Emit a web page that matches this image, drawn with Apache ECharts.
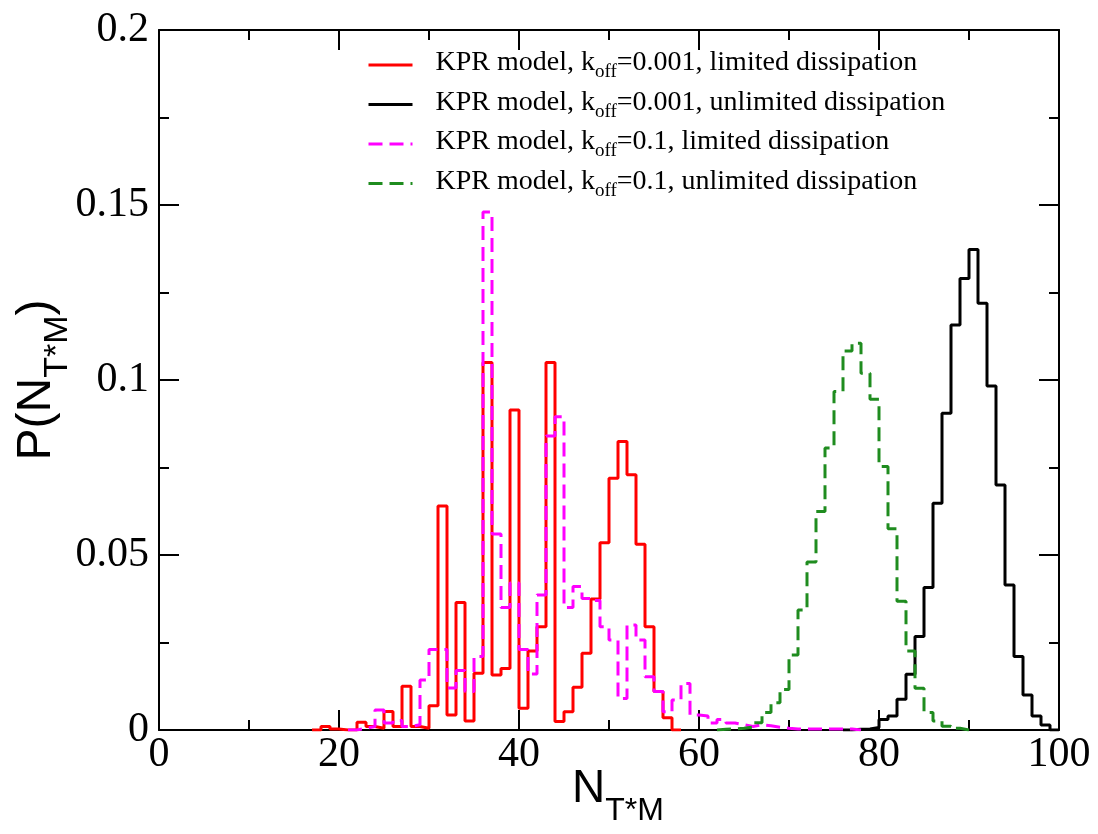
<!DOCTYPE html>
<html>
<head>
<meta charset="utf-8">
<script src="https://cdn.jsdelivr.net/npm/echarts@6/dist/echarts.min.js"></script>
<style>
html,body{margin:0;padding:0;background:#fff;}
#chart{width:1098px;height:834px;}
</style>
</head>
<body>
<div id="chart"></div>
<script>
// ---- data: histogram bins of width 1, first bin left edge = *Start ----
var redStart = 17;
var redValues = [0, 0.001, 0.0003, 0, 0, 0.0022, 0.001, 0.0005, 0.0053, 0.001,
  0.0125, 0.001, 0.0005, 0.0069, 0.064, 0.0043, 0.0364, 0.0026, 0.0162, 0.105,
  0.0157, 0.0176, 0.0914, 0.0062, 0.0226, 0.0295, 0.105, 0.0024, 0.0052, 0.0122,
  0.0219, 0.0374, 0.0535, 0.0719, 0.0824, 0.0729, 0.0531, 0.0295, 0.011, 0.0035, 0];

var blackStart = 76;
var blackValues = [0, 0.0002, 0.0003, 0.0007, 0.003, 0.004, 0.0088, 0.0159, 0.0267, 0.0407,
  0.0648, 0.0905, 0.1157, 0.129, 0.1373, 0.1219, 0.0983, 0.070, 0.0414, 0.021,
  0.010, 0.004, 0.0014, 0];

var magentaStart = 21;
var magentaValues = [0, 0.0005, 0.001, 0.0057, 0.002, 0.0027, 0.001, 0.0015, 0.0143, 0.023,
  0.023, 0.012, 0.017, 0.011, 0.021, 0.148, 0.056, 0.035, 0.042, 0.023,
  0.016, 0.0386, 0.084, 0.0895, 0.035, 0.041, 0.0376, 0.037, 0.0295, 0.0257,
  0.009, 0.030, 0.0257, 0.0152, 0.011, 0.0052, 0.0086, 0.0133, 0.0043, 0.004,
  0.002, 0.003, 0.002, 0.0015, 0.001, 0.0015, 0.0012, 0.0008, 0.0005, 0.0003,
  0.0003, 0.0003, 0.0003, 0.0003, 0.0003, 0.0003, 0];

var greenStart = 62;
var greenValues = [0.0002, 0.0003, 0.0005, 0.0008, 0.0021, 0.005, 0.0078, 0.0116, 0.0214, 0.0343,
  0.048, 0.0624, 0.0806, 0.0967, 0.1083, 0.1105, 0.1019, 0.0945, 0.0753, 0.0575,
  0.0368, 0.0226, 0.0119, 0.005, 0.0026, 0.0011, 0.0005, 0];

var seriesNames = [
  'KPR model, k_off=0.001, limited dissipation',
  'KPR model, k_off=0.001, unlimited dissipation',
  'KPR model, k_off=0.1, limited dissipation',
  'KPR model, k_off=0.1, unlimited dissipation'
];
var xTicks = [0, 20, 40, 60, 80, 100];
var yTicks = [0, 0.05, 0.1, 0.15, 0.2];

function toSteps(start, vals) {
  var pts = [[start, 0]];
  for (var i = 0; i < vals.length; i++) pts.push([start + i, vals[i]]);
  pts.push([start + vals.length, 0]);
  return pts;
}

var chart = echarts.init(document.getElementById('chart'), null, {renderer: 'canvas'});
var serif = '"Liberation Serif", "Times New Roman", serif';
var sans = '"Liberation Sans", Arial, sans-serif';

function mkSeries(name, start, vals, color, dashed) {
  return {
    name: name, type: 'line', step: 'end', data: toSteps(start, vals),
    showSymbol: false, symbol: 'none', animation: false,
    lineStyle: {color: color, width: 3, type: dashed ? [14, 7] : 'solid'},
    itemStyle: {color: color}
  };
}

var axisCommon = {
  type: 'value', splitLine: {show: false},
  axisLine: {show: true, onZero: false, lineStyle: {color: '#000', width: 2}},
  axisTick: {show: true, inside: true, length: 20, lineStyle: {color: '#000', width: 2}},
  minorTick: {show: true, splitNumber: 2, length: 10, lineStyle: {color: '#000', width: 2}}
};

var option = {
  backgroundColor: '#fff',
  animation: false,
  grid: {left: 159, right: 39, top: 30, bottom: 104, outerBoundsMode: 'none'},
  legend: {
    orient: 'vertical', left: 362, top: 44, itemWidth: 44, itemHeight: 14, itemGap: 6.5,
    data: seriesNames,
    itemStyle: {opacity: 0},
    lineStyle: {width: 3},
    formatter: function (n) {
      var p = n.split('k_off');
      return '{n|' + p[0] + 'k}{s|off}{n|' + p[1] + '}';
    },
    textStyle: {
      color: '#000', padding: [0, 0, 0, 18],
      rich: {
        n: {fontFamily: serif, fontSize: 28, lineHeight: 32, verticalAlign: 'top', color: '#000'},
        s: {fontFamily: serif, fontSize: 19, lineHeight: 19, padding: [14, 0, 0, 0], verticalAlign: 'top', color: '#000'}
      }
    }
  },
  xAxis: [
    Object.assign({}, axisCommon, {
      position: 'bottom', min: 0, max: 100, interval: 20,
      axisLabel: {color: '#000', fontFamily: serif, fontSize: 42, margin: 4,
        formatter: function (v) { return xTicks.indexOf(v) >= 0 ? String(v) : ''; }},
      name: '{a|N}{b|T*M}', nameLocation: 'middle', nameGap: 36, nameMoveOverlap: false,
      nameTextStyle: {padding: [0, 0, 0, 18], rich: {
        a: {fontFamily: sans, fontSize: 46, lineHeight: 50, verticalAlign: 'top', color: '#000'},
        b: {fontFamily: sans, fontSize: 32, lineHeight: 32, padding: [29, 0, 0, 0], verticalAlign: 'top', color: '#000'}
      }}
    }),
    Object.assign({}, axisCommon, {
      position: 'top', min: 0, max: 100, interval: 20, axisLabel: {show: false}
    })
  ],
  yAxis: [
    Object.assign({}, axisCommon, {
      position: 'left', min: 0, max: 0.2, interval: 0.05,
      axisLabel: {color: '#000', fontFamily: serif, fontSize: 42, margin: 10,
        formatter: function (v) {
          for (var i = 0; i < yTicks.length; i++) if (Math.abs(yTicks[i] - v) < 1e-9) return String(yTicks[i]);
          return '';
        }},
      name: '{a|P(N}{b|T*M}{a|)}', nameLocation: 'middle', nameGap: 94, nameRotate: 90, nameMoveOverlap: false,
      nameTextStyle: {rich: {
        a: {fontFamily: sans, fontSize: 48, lineHeight: 52, verticalAlign: 'top', color: '#000'},
        b: {fontFamily: sans, fontSize: 34, lineHeight: 34, padding: [28, 0, 0, 0], verticalAlign: 'top', color: '#000'}
      }}
    }),
    Object.assign({}, axisCommon, {
      position: 'right', min: 0, max: 0.2, interval: 0.05, axisLabel: {show: false}
    })
  ],
  series: [
    mkSeries(seriesNames[0], redStart, redValues, '#ff0000', false),
    mkSeries(seriesNames[1], blackStart, blackValues, '#000000', false),
    mkSeries(seriesNames[2], magentaStart, magentaValues, '#ff00ff', true),
    mkSeries(seriesNames[3], greenStart, greenValues, '#1f8c1f', true)
  ]
};
chart.setOption(option);
</script>
</body>
</html>
